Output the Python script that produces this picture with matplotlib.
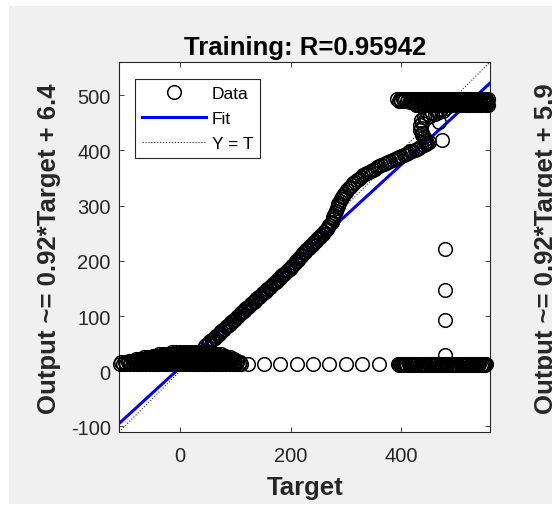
"""
Regression plot (Training) - Output vs Target with fit and Y = T line.
"""

import numpy as np
import matplotlib
matplotlib.use("Agg")
import matplotlib.pyplot as plt
from matplotlib.patches import Rectangle

plt.rcParams["font.family"] = ["Liberation Sans", "DejaVu Sans"]
plt.rcParams["axes.unicode_minus"] = False

# ---------------------------------------------------------------------------
# Values
title = "Training: R=0.95942"
y_label = "Output ~= 0.92*Target + 6.4"
next_y_label = "Output ~= 0.92*Target + 5.9"   # label of the next panel, cut off
fit_slope = 0.92
fit_offset = 6.4
ax_lim = [-110, 560]
x_ticks = [0, 200, 400]
y_ticks = [-100, 0, 100, 200, 300, 400, 500]

# dense cloud at small targets, one list of targets per output level
low_rows_y = [13, 16, 19, 22, 25, 28, 31, 35]
low_rows_t = [
    [-109, -103, -97, -91, -85, -79, -73, -67, -61, -55, -49, -43, -37, -31,
     -25, -19, -13, -7, -1, 5, 11, 17, 23, 29, 35, 41, 47, 53, 59, 65, 71, 77,
     83, 89, 95, 101, 106, 111],
    [-106, -100, -94, -88, -82, -76, -70, -64, -58, -52, -46, -40, -34, -28,
     -22, -16, -10, -4, 2, 8, 14, 20, 26, 32, 38, 44, 50, 56, 62, 68, 74, 80,
     86, 92, 98, 104, 108],
    [-92, -85, -78, -71, -64, -57, -50, -43, -36, -29, -22, -15, -8, -1, 6, 13,
     20, 27, 34, 41, 48, 55, 62, 69, 76, 83, 90, 97, 103],
    [-80, -74, -68, -62, -56, -50, -44, -38, -32, -26, -20, -14, -8, -2, 4, 10,
     16, 22, 28, 34, 40, 46, 52, 58, 64, 70, 76, 82, 88, 94, 98],
    [-64, -57, -50, -43, -36, -29, -22, -15, -8, -1, 6, 13, 20, 27, 34, 41, 48,
     55, 62, 69, 76, 83, 90],
    [-48, -42, -36, -30, -24, -18, -12, -6, 0, 6, 12, 18, 24, 30, 36, 42, 48,
     54, 60, 66, 72, 78, 82],
    [-38, -31, -24, -17, -10, -3, 4, 11, 18, 25, 32, 39, 46, 53, 60, 67, 74],
    [-14, -7, 0, 7, 14, 21, 28, 35, 42, 49],
]

# rising curve (including the S bend), two interleaved traces of the band
curve_t = [45, 50, 55, 60, 65, 70, 75, 80, 85, 90,
           95, 100, 105, 110, 115, 120, 125, 130, 135, 140,
           145, 150, 155, 160, 165, 170, 175, 180, 185, 190,
           195, 200, 205, 210, 215, 220, 225, 230, 235, 240,
           245, 250, 255, 260, 265, 270, 274, 277, 280, 283,
           286, 289, 293, 297, 302, 307, 313, 320, 327, 334,
           341, 348, 356, 364, 372, 380, 388, 396, 404, 412,
           420, 428, 436, 444, 449]
curve_y = [45, 49, 54, 59, 63, 68, 72, 77, 82, 86,
           91, 95, 100, 105, 109, 114, 118, 123, 128, 132,
           137, 141, 146, 151, 155, 160, 164, 169, 174, 178,
           183, 188, 193, 199, 205, 211, 216, 221, 226, 231,
           236, 241, 246, 252, 258, 265, 271, 279, 287, 295,
           302, 308, 315, 321, 328, 334, 340, 346, 352, 357,
           361, 365, 369, 373, 377, 381, 385, 388, 392, 396,
           399, 403, 407, 411, 415]
curve2_t = [48, 53, 58, 63, 68, 73, 78, 83, 88, 93,
            98, 103, 108, 113, 118, 123, 128, 133, 138, 143,
            148, 153, 158, 163, 168, 173, 178, 183, 188, 193,
            198, 203, 208, 213, 218, 223, 228, 233, 238, 243,
            248, 253, 258, 263, 268, 272, 276, 279, 282, 285,
            288, 291, 295, 300, 305, 310, 317, 324, 331, 338,
            345, 352, 360, 368, 376, 384, 392, 400, 408, 416,
            424, 432, 440, 447]
curve2_y = [48, 52, 57, 61, 66, 70, 75, 80, 84, 89,
            93, 98, 103, 107, 112, 116, 121, 126, 130, 135,
            139, 144, 149, 153, 158, 162, 167, 172, 176, 181,
            186, 191, 196, 202, 208, 214, 219, 224, 229, 234,
            239, 244, 249, 255, 262, 268, 275, 283, 291, 299,
            305, 312, 318, 325, 331, 337, 343, 349, 355, 359,
            363, 367, 371, 375, 379, 383, 387, 390, 394, 398,
            401, 405, 409, 413]

# hook joining the curve to the top plateau
hook_t = [442, 437, 434, 433, 435, 440, 448, 456, 464, 472, 480,
          445, 440, 437, 436, 438, 444, 452, 460, 468, 476]
hook_y = [420, 428, 437, 446, 455, 461, 465, 468, 471, 474, 477,
          417, 424, 432, 441, 450, 458, 462, 466, 469, 472]

# top plateau, one list of targets per output level
top_rows_y = [493, 490, 487, 484, 482]
top_rows_t = [
    [392, 397, 402, 407, 412, 417, 422, 427, 432, 437, 442, 447, 452, 457,
     462, 467, 472, 477, 482, 487, 492, 497, 502, 507, 512, 517, 522, 527,
     532, 537, 542, 547, 552, 557],
    [395, 400, 405, 410, 415, 420, 425, 430, 435, 440, 445, 450, 455, 460,
     465, 470, 475, 480, 485, 490, 495, 500, 505, 510, 515, 520, 525, 530,
     535, 540, 545, 550, 555],
    [416, 422, 428, 434, 440, 446, 452, 458, 464, 470, 476, 482, 488, 494,
     500, 506, 512, 518, 524, 530, 536, 542, 548, 554],
    [429, 435, 441, 447, 453, 459, 465, 471, 477, 483, 489, 495, 501, 507,
     513, 519, 525, 531, 537, 543, 549, 555],
    [426, 432, 438, 444, 450, 456, 462, 468, 474, 480, 486, 492, 498, 504,
     510, 516, 522, 528, 534, 540, 546, 552, 557],
]

# zero-output points at large targets
zero_y = 13
zero_sparse_t = [123, 152, 181, 211, 240, 270, 300, 329, 359]
zero_dense_t = [393, 397, 401, 405, 409, 413, 417, 421, 425, 429, 433, 437,
                441, 445, 449, 453, 457, 461, 465, 469, 473, 477, 481, 485,
                489, 493, 497, 501, 505, 509, 513, 517, 521, 525, 529, 533,
                537, 541, 545, 549, 553]
zero_dense2_y = 12
zero_dense2_t = [395, 399, 403, 407, 411, 415, 419, 423, 427, 431, 435, 439,
                 443, 447, 451, 455, 459, 463, 467, 471, 475, 479, 483, 487,
                 491, 495, 499, 503, 507, 511, 515, 519, 523, 527, 531, 535,
                 539, 543, 547, 551]

# isolated points near target 475
outlier_t = [468, 474, 478, 478, 478, 478]
outlier_y = [452, 419, 221, 148, 92, 29]

# ---------------------------------------------------------------------------
# assemble the scatter
t_parts, y_parts = [], []
for yv, row in zip(low_rows_y, low_rows_t):
    t_parts.append(row)
    y_parts.append([yv] * len(row))
t_parts += [curve_t, curve2_t, hook_t]
y_parts += [curve_y, curve2_y, hook_y]
for yv, row in zip(top_rows_y, top_rows_t):
    t_parts.append(row)
    y_parts.append([yv] * len(row))
for yv, row in ((zero_y, zero_sparse_t), (zero_y, zero_dense_t),
                (zero_dense2_y, zero_dense2_t)):
    t_parts.append(row)
    y_parts.append([yv] * len(row))
t_parts.append(outlier_t)
y_parts.append(outlier_y)

targets = np.concatenate([np.asarray(p, float) for p in t_parts])
outputs = np.concatenate([np.asarray(p, float) for p in y_parts])

fit_x = np.array(ax_lim, float)
fit_y = fit_slope * fit_x + fit_offset

# ---------------------------------------------------------------------------
W, H = 552, 506
fig = plt.figure(figsize=(W / 100, H / 100), dpi=100, facecolor="white")
fig.patches.append(Rectangle((9 / W, 1 / H), 1 - 9 / W, 1 - 8 / H,
                             transform=fig.transFigure, facecolor="#f0f0f0",
                             edgecolor="none", zorder=-10))

ax = fig.add_axes([119 / W, 1 - 433 / H, 371 / W, 370 / H])
ax.set_facecolor("white")

ax.plot(ax_lim, ax_lim, ":", color="#333333", lw=0.8, label="Y = T", zorder=1)
ax.plot(fit_x, fit_y, "-", color="#0000ff", lw=2.2, label="Fit", zorder=2)
ax.plot(targets, outputs, "o", mfc="none", mec="black", ms=9.8, mew=1.1,
        label="Data", clip_on=False, zorder=3)

ax.set_xlim(ax_lim)
ax.set_ylim(ax_lim)
ax.set_xticks(x_ticks)
ax.set_yticks(y_ticks)
ax.tick_params(direction="in", length=3.5, width=0.6, top=True, right=True,
               labelsize=14.5, labelcolor="#262626", color="#262626")
ax.tick_params(axis="x", pad=10)
ax.tick_params(axis="y", pad=6)
for sp in ax.spines.values():
    sp.set_color("#262626")
    sp.set_linewidth(0.8)

handles, labels = ax.get_legend_handles_labels()
order = [2, 1, 0]
leg = ax.legend([handles[i] for i in order], [labels[i] for i in order],
                loc="upper left", bbox_to_anchor=(135 / W, 1 - 80 / H),
                bbox_transform=fig.transFigure, borderaxespad=0,
                fontsize=12.5, handlelength=3.7, handletextpad=0.35,
                borderpad=0.38, labelspacing=0.58, fancybox=False,
                framealpha=1, edgecolor="#262626")
leg.get_frame().set_linewidth(0.8)
leg.set_zorder(5)

fig.text(305 / W, 1 - 48 / H, title, ha="center", va="center",
         fontsize=18.5, fontweight="bold", color="black")
fig.text(305 / W, 1 - 488 / H, "Target", ha="center", va="center",
         fontsize=18.5, fontweight="bold", color="#262626")
fig.text(49 / W, 1 - 249 / H, y_label, ha="center", va="center",
         rotation=90, fontsize=18.5, fontweight="bold", color="#262626")
fig.text(546 / W, 1 - 249 / H, next_y_label, ha="center", va="center",
         rotation=90, fontsize=18.5, fontweight="bold", color="#262626")

fig.savefig("out.png", dpi=100, facecolor=fig.get_facecolor())
